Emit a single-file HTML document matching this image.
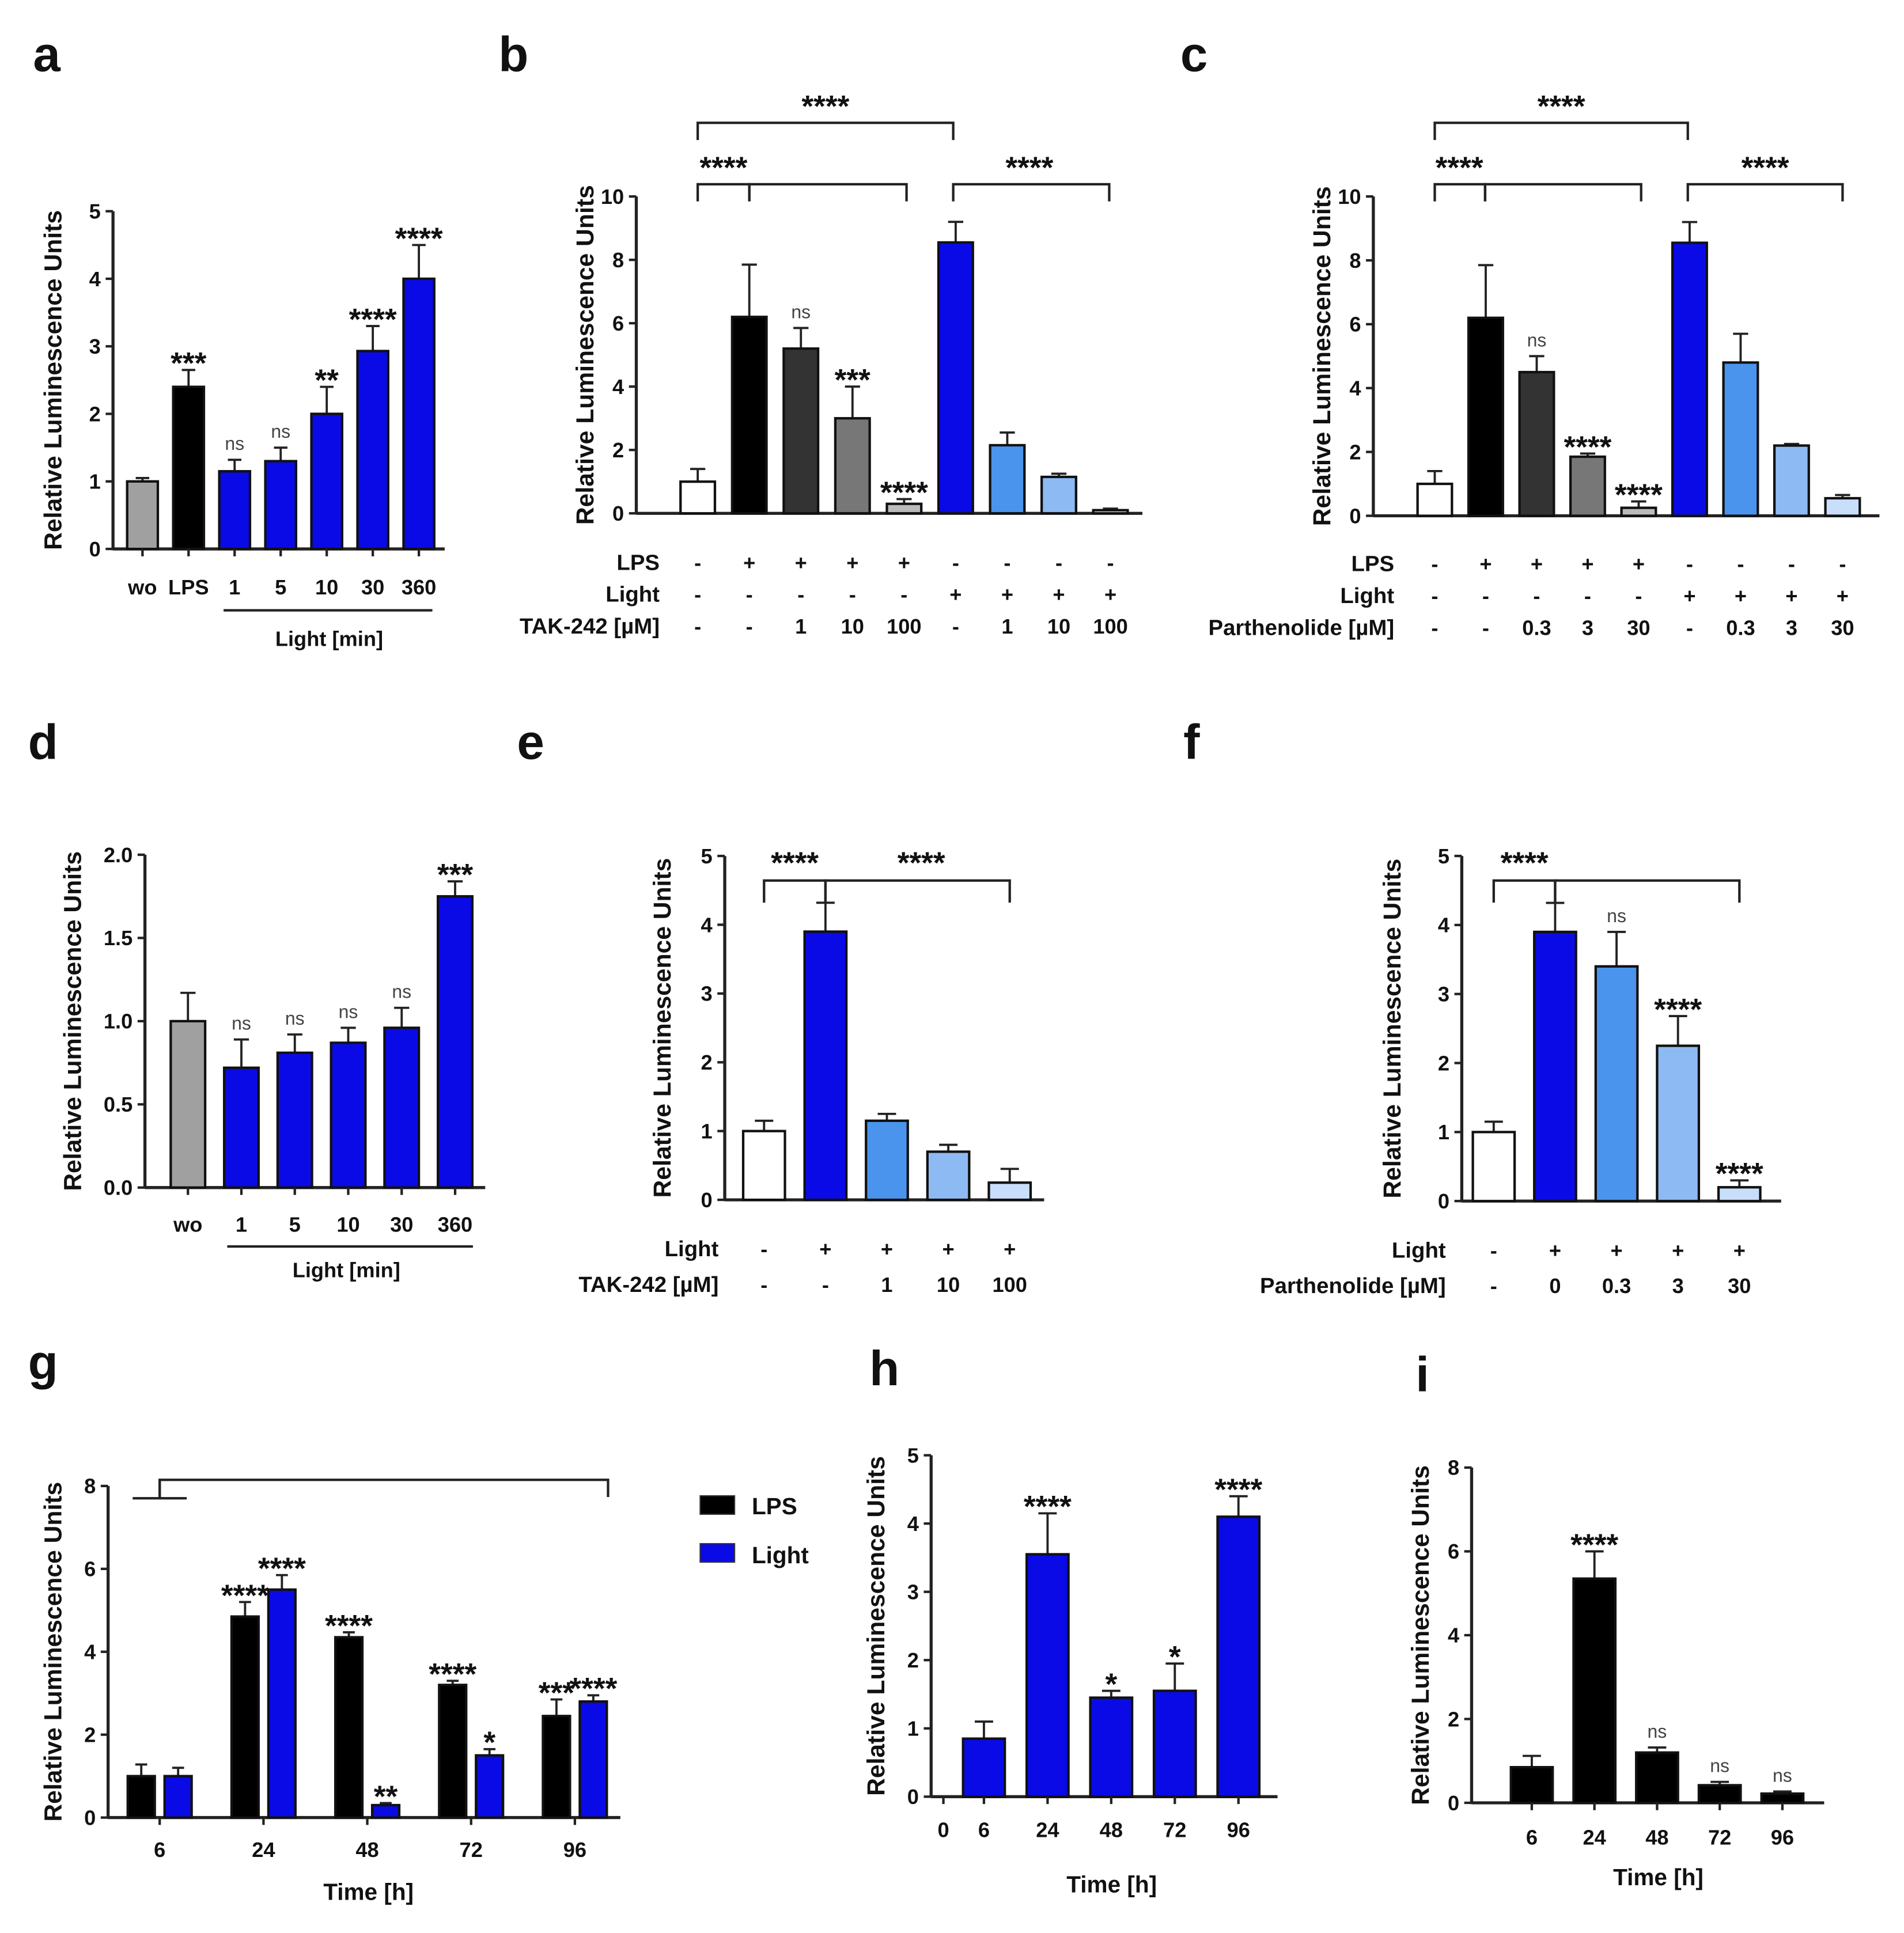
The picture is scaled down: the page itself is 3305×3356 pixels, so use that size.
<!DOCTYPE html>
<html><head><meta charset="utf-8"><style>
html,body{margin:0;padding:0;background:#fff;}
svg{display:block;font-family:"Liberation Sans",sans-serif;}
</style></head><body>
<svg id="fig" width="3305" height="3356" viewBox="0 0 1550 1574" preserveAspectRatio="none" xmlns="http://www.w3.org/2000/svg"></svg>
<script>
// ---- data ----
const aCats=["wo","LPS","1","5","10","30","360"];
const aVals=[1.0,2.4,1.15,1.3,2.0,2.93,4.0];
const aErr=[1.05,2.65,1.32,1.5,2.4,3.3,4.5];
const aSig=["","***","ns","ns","**","****","****"];
const bVals=[1.0,6.2,5.2,3.0,0.3,8.55,2.15,1.15,0.1];
const bErr=[1.4,7.85,5.85,4.0,0.45,9.2,2.55,1.25,0.15];
const bSig=["","","ns","***","****","","","",""];
const bLPS=["-","+","+","+","+","-","-","-","-"];
const bLight=["-","-","-","-","-","+","+","+","+"];
const bTak=["-","-","1","10","100","-","1","10","100"];
const cVals=[1.0,6.2,4.5,1.85,0.25,8.55,4.8,2.2,0.55];
const cErr=[1.4,7.85,5.0,1.95,0.45,9.2,5.7,2.25,0.65];
const cSig=["","","ns","****","****","","","",""];
const cPart=["-","-","0.3","3","30","-","0.3","3","30"];
const dCats=["wo","1","5","10","30","360"];
const dVals=[1.0,0.72,0.81,0.87,0.96,1.75];
const dErr=[1.17,0.89,0.92,0.96,1.08,1.84];
const dSig=["","ns","ns","ns","ns","***"];
const eVals=[1.0,3.9,1.15,0.7,0.25];
const eErr=[1.15,4.32,1.25,0.8,0.45];
const eLight=["-","+","+","+","+"];
const eTak=["-","-","1","10","100"];
const fVals=[1.0,3.9,3.4,2.25,0.2];
const fErr=[1.15,4.32,3.9,2.68,0.3];
const fSig=["","","ns","****","****"];
const fPart=["-","0","0.3","3","30"];
const gCats=["6","24","48","72","96"];
const gLPS=[1.0,4.85,4.35,3.2,2.45];
const gLPSErr=[1.28,5.2,4.47,3.3,2.85];
const gLPSSig=["","****","****","****","***"];
const gLight=[1.0,5.5,0.3,1.5,2.8];
const gLightErr=[1.2,5.85,0.35,1.65,2.95];
const gLightSig=["","****","**","*","****"];
const hCats=["6","24","48","72","96"];
const hVals=[0.85,3.55,1.45,1.55,4.1];
const hErr=[1.1,4.15,1.55,1.95,4.4];
const hSig=["","****","*","*","****"];
const iVals=[0.85,5.35,1.2,0.42,0.22];
const iErr=[1.12,6.0,1.32,0.5,0.27];
const iSig=["","****","ns","ns","ns"];

const svg=document.getElementById('fig');
const NS="http://www.w3.org/2000/svg";
function el(tag,attrs,parent,text){const e=document.createElementNS(NS,tag);for(const k in attrs)e.setAttribute(k,attrs[k]);if(text!==undefined)e.textContent=text;(parent||svg).appendChild(e);return e;}
function txt(x,y,s,size,name,opts){opts=opts||{};const t=el('text',{x:x,y:y,'font-size':size,'font-weight':opts.w||'bold','text-anchor':opts.a||'middle',fill:opts.fill||'#111'},opts.p,s);


if(opts.rot)t.setAttribute('transform','rotate(-90 '+x+' '+y+')');return t;}
function stars(x,y,s,p){const t=txt(x,y+9,s,25,'sig-label',{p:p});t.setAttribute('letter-spacing','0');return t;}
function line(x1,y1,x2,y2,name,w,p){const l=el('line',{x1:x1,y1:y1,x2:x2,y2:y2,stroke:'#222','stroke-width':w||2},p);

return l;}

function panel(c){
  const g=el('g',{});
  
  
  txt(c.lx,c.ly,c.id,40,'panel-label-'+c.id,{p:g});
  const ys=v=>c.y0-(v/c.ymax)*(c.y0-c.ytop);
  const xs=i=>c.x0+i*c.step;
  line(c.ax,c.y0+1,c.ax,c.ytop,'y-axis',2.5,g);
  line(c.ax,c.y0,c.axEnd,c.y0,'x-axis',2.5,g);
  c.ticks.forEach(t=>{const y=ys(t);line(c.ax-6,y,c.ax,y,'y-tick',2,g);
    txt(c.ax-10,y+6,c.tickFmt?c.tickFmt(t):String(t),17,'y-tick-label',{a:'end',p:g});});
  txt(c.titleX,(c.y0+c.ytop)/2,'Relative Luminescence Units',20,'y-axis-title',{rot:true,p:g});
  c.series.forEach((s,si)=>{
    s.vals.forEach((v,i)=>{
      const cx=xs(i)+(s.off||0);const col=Array.isArray(s.color)?s.color[i]:s.color;
      const top=ys(v);
      const ey=ys(s.err[i]);
      line(cx,top,cx,ey,'error-bar',1.8,g);
      line(cx-c.bw*0.22,ey,cx+c.bw*0.22,ey,'error-cap',1.8,g);
      const r=el('rect',{x:cx-c.bw/2,y:top,width:c.bw,height:Math.max(c.y0-top,1),fill:col,stroke:'#111','stroke-width':2},g);
      
      
      const sg=s.sig?s.sig[i]:'';
      if(sg){if(sg==='ns')txt(cx,ey-8,'ns',15,'sig-label',{w:'normal',fill:'#444',p:g});
        else stars(cx,ey-6,sg,g);}
    });
  });
  if(c.cats){c.cats.forEach((s,i)=>{const cx=xs(i)+(c.catOff||0);if(c.xticks)line(cx,c.y0,cx,c.y0+6,'x-tick',2,g);
    txt(cx,c.catY,s,17,'x-tick-label',{p:g});});}
  return {g:g,xs:xs,ys:ys};
}
function bracket(g,x1,x2,y,drop,name){const p=el('path',{d:`M${x1} ${y+drop} V${y} H${x2} V${y+drop}`,fill:'none',stroke:'#222','stroke-width':2},g);
  }
function rows(g,xs,labelX,rowsArr){rowsArr.forEach(r=>{txt(labelX,r.y,r.label,18,'row-label',{a:'end',p:g});
  r.vals.forEach((v,i)=>txt(xs(i),r.y,v,17,'row-value',{p:g}));});}

const BLUE='#0a0ae6',L1='#4a94ee',L2='#8dbaf2',L3='#c8defa';
// a
const pa=panel({id:'a',lx:38,ly:58,ax:92,axEnd:362,y0:447,ytop:172,ymax:5,ticks:[0,1,2,3,4,5],titleX:50,
  x0:116,step:37.5,bw:25,xticks:true,cats:aCats,catY:484,
  series:[{vals:aVals,err:aErr,sig:aSig,color:['#a0a0a0','#000',BLUE,BLUE,BLUE,BLUE,BLUE]}]});
line(182,497,352,497,'light-group-line',2,pa.g);
txt(268,526,'Light [min]',17,'x-axis-title',{p:pa.g});
// b
const pb=panel({id:'b',lx:418,ly:58,ax:518,axEnd:930,y0:418,ytop:160,ymax:10,ticks:[0,2,4,6,8,10],titleX:483,
  x0:568,step:42,bw:28,
  series:[{vals:bVals,err:bErr,sig:bSig,color:['#fff','#000','#333','#777','#bbb',BLUE,L1,L2,L3]}]});
bracket(pb.g,568,776,100,14,'bracket-top');stars(672,86,'****',pb.g);
bracket(pb.g,568,610,150,14,'bracket');stars(589,136,'****',pb.g);
bracket(pb.g,610,738,150,14,'bracket');
bracket(pb.g,776,903,150,14,'bracket');stars(838,136,'****',pb.g);
rows(pb.g,pb.xs,537,[{y:464,label:'LPS',vals:bLPS},{y:490,label:'Light',vals:bLight},{y:516,label:'TAK-242 [µM]',vals:bTak}]);
// c
const pc=panel({id:'c',lx:972,ly:58,ax:1118,axEnd:1530,y0:420,ytop:160,ymax:10,ticks:[0,2,4,6,8,10],titleX:1083,
  x0:1168,step:41.5,bw:28,
  series:[{vals:cVals,err:cErr,sig:cSig,color:['#fff','#000','#333','#777','#bbb',BLUE,L1,L2,L3]}]});
bracket(pc.g,1168,1374,100,14,'bracket-top');stars(1271,86,'****',pc.g);
bracket(pc.g,1168,1209,150,14,'bracket');stars(1188,136,'****',pc.g);
bracket(pc.g,1209,1336,150,14,'bracket');
bracket(pc.g,1374,1500,150,14,'bracket');stars(1437,136,'****',pc.g);
rows(pc.g,pc.xs,1135,[{y:465,label:'LPS',vals:bLPS},{y:491,label:'Light',vals:bLight},{y:517,label:'Parthenolide [µM]',vals:cPart}]);
// d
const pd=panel({id:'d',lx:35,ly:618,ax:118,axEnd:395,y0:967,ytop:696,ymax:2,ticks:[0,0.5,1,1.5,2],tickFmt:t=>t.toFixed(1),titleX:66,
  x0:153,step:43.5,bw:28,xticks:true,cats:dCats,catY:1003,
  series:[{vals:dVals,err:dErr,sig:dSig,color:['#a0a0a0',BLUE,BLUE,BLUE,BLUE,BLUE]}]});
line(185,1015,385,1015,'light-group-line',2,pd.g);
txt(282,1040,'Light [min]',17,'x-axis-title',{p:pd.g});
// e
const pe=panel({id:'e',lx:432,ly:618,ax:590,axEnd:850,y0:977,ytop:697,ymax:5,ticks:[0,1,2,3,4,5],titleX:546,
  x0:622,step:50,bw:34,
  series:[{vals:eVals,err:eErr,color:['#fff',BLUE,L1,L2,L3]}]});
bracket(pe.g,622,672,717,18,'bracket');stars(647,702,'****',pe.g);
bracket(pe.g,672,822,717,18,'bracket');stars(750,702,'****',pe.g);
rows(pe.g,pe.xs,585,[{y:1023,label:'Light',vals:eLight},{y:1052,label:'TAK-242 [µM]',vals:eTak}]);
// f
const pf=panel({id:'f',lx:970,ly:618,ax:1190,axEnd:1450,y0:978,ytop:697,ymax:5,ticks:[0,1,2,3,4,5],titleX:1140,
  x0:1216,step:50,bw:34,
  series:[{vals:fVals,err:fErr,sig:fSig,color:['#fff',BLUE,L1,L2,L3]}]});
bracket(pf.g,1216,1266,717,18,'bracket');stars(1241,702,'****',pf.g);
bracket(pf.g,1266,1416,717,18,'bracket');
rows(pf.g,pf.xs,1177,[{y:1024,label:'Light',vals:eLight},{y:1053,label:'Parthenolide [µM]',vals:fPart}]);
// g
const pg=panel({id:'g',lx:35,ly:1123,ax:88,axEnd:505,y0:1480,ytop:1210,ymax:8,ticks:[0,2,4,6,8],titleX:50,
  x0:130,step:84.5,bw:22,xticks:true,cats:gCats,catY:1512,
  series:[{vals:gLPS,err:gLPSErr,sig:gLPSSig,color:'#000',off:-15},{vals:gLight,err:gLightErr,sig:gLightSig,color:BLUE,off:15}]});
bracket(pg.g,130,495,1205,14,'bracket-top');
line(108,1220,152,1220,'bracket-base',2,pg.g);line(130,1205,130,1220,'bracket-stem',2,pg.g);
txt(300,1547,'Time [h]',19,'x-axis-title',{p:pg.g});
const lg=el('g',{});
const lr1=el('rect',{x:570,y:1218,width:28,height:15,fill:'#000',stroke:'#333'},lg);
txt(612,1233,'LPS',19,'legend-entry-lps',{a:'start',p:lg});
const lr2=el('rect',{x:570,y:1257,width:28,height:15,fill:BLUE,stroke:'#333'},lg);
txt(612,1273,'Light',19,'legend-entry-light',{a:'start',p:lg});
// h
const ph=panel({id:'h',lx:720,ly:1128,ax:758,axEnd:1040,y0:1463,ytop:1185,ymax:5,ticks:[0,1,2,3,4,5],titleX:720,
  x0:801,step:51.8,bw:34,xticks:true,cats:hCats,catY:1496,
  series:[{vals:hVals,err:hErr,sig:hSig,color:BLUE}]});
line(768,1463,768,1469,'x-tick',2,ph.g);txt(768,1496,'0',17,'x-tick-label',{p:ph.g});
txt(905,1541,'Time [h]',19,'x-axis-title',{p:ph.g});
// i
const pi=panel({id:'i',lx:1158,ly:1133,ax:1198,axEnd:1485,y0:1468,ytop:1195,ymax:8,ticks:[0,2,4,6,8],titleX:1163,
  x0:1247,step:51,bw:34,xticks:true,cats:hCats,catY:1502,
  series:[{vals:iVals,err:iErr,sig:iSig,color:'#000'}]});
txt(1350,1535,'Time [h]',19,'x-axis-title',{p:pi.g});
</script>
</body></html>
